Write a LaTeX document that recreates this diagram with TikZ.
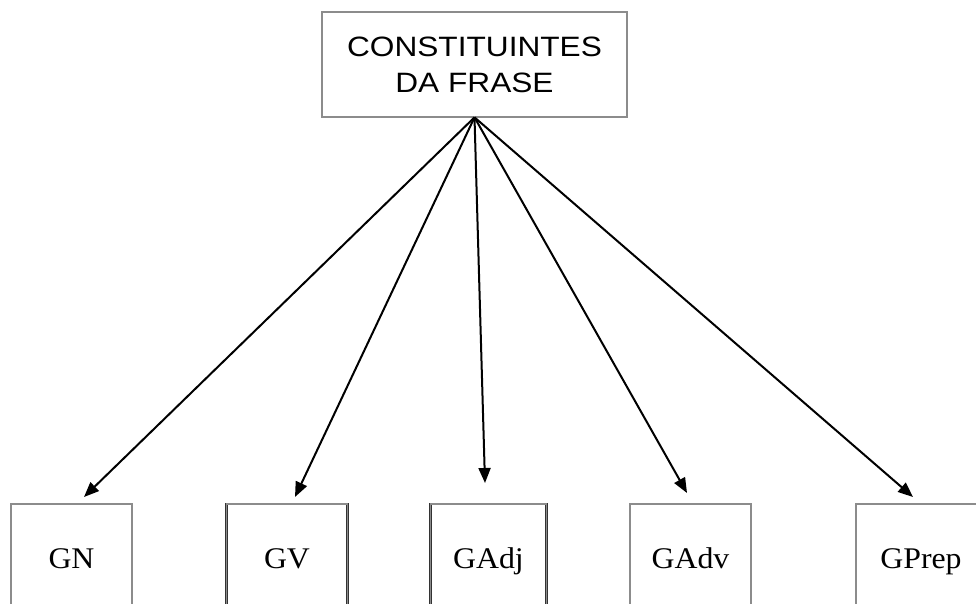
\documentclass[tikz,border=0pt]{standalone}
\usepackage{fontspec}
\usetikzlibrary{arrows.meta}
\newfontfamily\headfont[FakeStretch=1.13]{Liberation Sans}
\newfontfamily\leaffont[FakeStretch=1.06]{Liberation Serif}
\begin{document}
\begin{tikzpicture}[x=1pt,y=-1pt,
  framebox/.style={rectangle, draw=black!80, double=black!45, double distance=1.1pt,
    line width=0.7pt, inner sep=0pt},
  headbox/.style={framebox, minimum width=305pt, minimum height=105pt, align=center,
    font=\headfont\fontsize{28}{36}\selectfont},
  leafbox/.style={framebox, minimum width=121pt, minimum height=114pt,
    text height=20pt, text depth=6pt, font=\leaffont\fontsize{30}{36}\selectfont},
  link/.style={line width=2pt, -{Triangle[length=15pt,width=12pt]}}]
  \clip (0,0) rectangle (976,604);
  \fill[white] (0,0) rectangle (976,604);

  % root
  \node[headbox] (root) at (474.5,64.5) {CONSTITUINTES\\DA FRASE};

  % phrase types
  \node[leafbox] (gn)    at (71.5,561)  {GN};
  \node[leafbox] (gv)    at (287,561)   {GV};
  \node[leafbox, minimum width=116pt] (gadj) at (488.5,561) {GAdj};
  \node[leafbox] (gadv)  at (690.5,561) {GAdv};
  \node[leafbox, minimum width=130pt] (gprep) at (921,561) {GPrep};

  % arrow ends just above the boxes
  \coordinate (tgn)    at (84,497);
  \coordinate (tgv)    at (295,497);
  \coordinate (tgadj)  at (485,483);
  \coordinate (tgadv)  at (687,493);
  \coordinate (tgprep) at (913,497);

  \foreach \t in {tgn,tgv,tgadj,tgadv,tgprep}
    \draw[link] (root.south) -- (\t);
\end{tikzpicture}
\end{document}
